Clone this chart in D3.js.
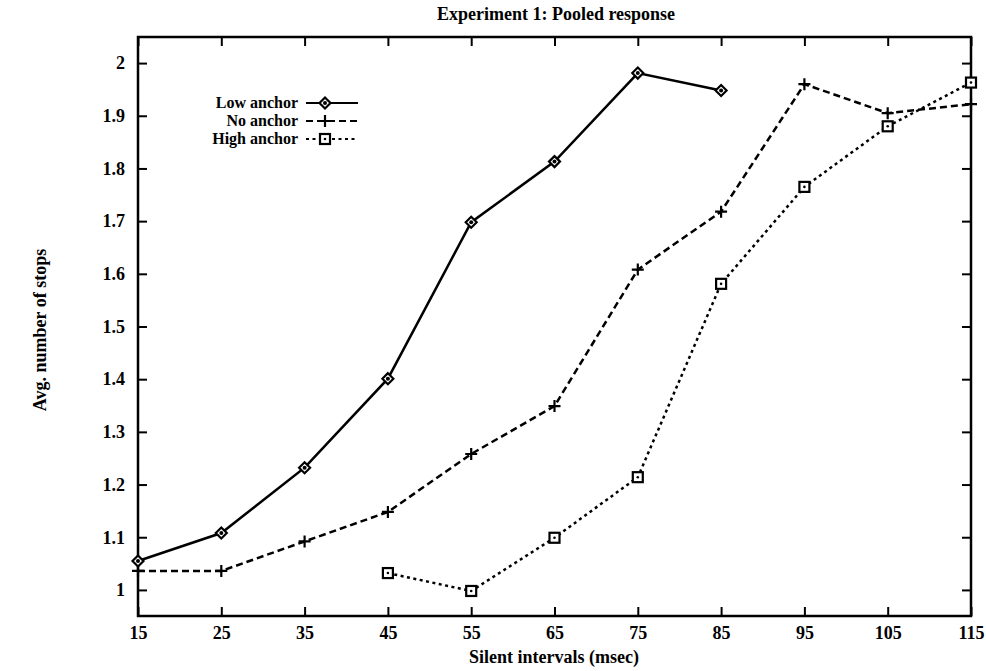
<!doctype html>
<html lang="en">
<head>
<meta charset="UTF-8">
<title>Experiment 1: Pooled response</title>
<style>
  body { margin: 0; background: #fff; }
  text { font-family: "Liberation Serif", "DejaVu Serif", serif; font-weight: bold; fill: #000; }
</style>
</head>
<body>
<div id="chart"></div>
<script src="https://d3js.org/d3.v7.min.js"></script>
<script>
// data
const intervals = [15, 25, 35, 45, 55, 65, 75, 85, 95, 105, 115]
const lowAnchor = [1.055, 1.108, 1.232, 1.401, 1.698, 1.813, 1.981, 1.948, null, null, null]
const noAnchor = [1.036, 1.036, 1.092, 1.148, 1.258, 1.349, 1.608, 1.718, 1.960, 1.905, 1.922]
const highAnchor = [null, null, null, 1.032, 0.998, 1.099, 1.214, 1.581, 1.765, 1.880, 1.963]
const xTicks = [15, 25, 35, 45, 55, 65, 75, 85, 95, 105, 115]
const yTicks = [1, 1.1, 1.2, 1.3, 1.4, 1.5, 1.6, 1.7, 1.8, 1.9, 2]

const series = [
  { name: 'Low anchor', values: lowAnchor, dash: null, marker: 'diamond' },
  { name: 'No anchor', values: noAnchor, dash: '7,4', marker: 'plus' },
  { name: 'High anchor', values: highAnchor, dash: '3,3.5', marker: 'square' }
]

const W = 986, H = 671
const margin = { top: 37, right: 15, bottom: 55, left: 138 }
const width = W - margin.left - margin.right
const height = H - margin.top - margin.bottom

const svg = d3.select('#chart').append('svg')
  .attr('width', W).attr('height', H)

const g = svg.append('g')
  .attr('transform', 'translate(' + margin.left + ',' + margin.top + ')')

const x = d3.scaleLinear().domain([15, 115]).range([0, width])
const y = d3.scaleLinear().domain([0.9505, 2.0495]).range([height, 0])

// axes: ticks pointing into the frame on all four sides
const tickLen = 9
g.append('g').attr('transform', 'translate(0,' + height + ')')
  .call(d3.axisBottom(x).tickValues(xTicks).tickSize(-tickLen).tickPadding(10))
g.append('g')
  .call(d3.axisTop(x).tickValues(xTicks).tickSize(-tickLen).tickFormat(''))
g.append('g')
  .call(d3.axisLeft(y).tickValues(yTicks).tickSize(-tickLen).tickPadding(13).tickFormat(d3.format('~g')))
g.append('g').attr('transform', 'translate(' + width + ',0)')
  .call(d3.axisRight(y).tickValues(yTicks).tickSize(-tickLen).tickFormat(''))

g.selectAll('.domain').remove()
g.selectAll('.tick line').attr('stroke', '#000').attr('stroke-width', 2)
g.selectAll('.tick text').style('font-size', '18px')

g.append('rect')
  .attr('width', width).attr('height', height)
  .attr('fill', 'none').attr('stroke', '#000').attr('stroke-width', 2.5)

// titles
svg.append('text')
  .attr('x', 556).attr('y', 20)
  .attr('text-anchor', 'middle').style('font-size', '18px')
  .text('Experiment 1: Pooled response')
svg.append('text')
  .attr('x', 554).attr('y', 663)
  .attr('text-anchor', 'middle').style('font-size', '18px')
  .text('Silent intervals (msec)')
svg.append('text')
  .attr('transform', 'translate(46,330) rotate(-90)')
  .attr('text-anchor', 'middle').style('font-size', '18px')
  .text('Avg. number of stops')

function drawMarker(sel, type) {
  if (type === 'diamond') {
    sel.append('path').attr('d', 'M0,-5.5L5.5,0L0,5.5L-5.5,0Z')
      .attr('fill', '#fff').attr('stroke', '#000').attr('stroke-width', 2.2)
    sel.append('circle').attr('r', 2).attr('fill', '#000')
  } else if (type === 'plus') {
    sel.append('path').attr('d', 'M-6,0H6M0,-6V6')
      .attr('stroke', '#000').attr('stroke-width', 2.2)
  } else {
    sel.append('rect').attr('x', -5).attr('y', -5).attr('width', 10).attr('height', 10)
      .attr('fill', '#fff').attr('stroke', '#000').attr('stroke-width', 2.2)
    sel.append('circle').attr('r', 1.3).attr('fill', '#000')
  }
}

const line = d3.line()
  .defined(d => d.v != null)
  .x(d => x(d.x))
  .y(d => y(d.v))

series.forEach(s => {
  const pts = intervals.map((xv, i) => ({ x: xv, v: s.values[i] }))
  g.append('path')
    .datum(pts)
    .attr('d', line)
    .attr('fill', 'none')
    .attr('stroke', '#000')
    .attr('stroke-width', 2.5)
    .attr('stroke-dasharray', s.dash)
  pts.filter(d => d.v != null).forEach(d => {
    const m = g.append('g').attr('transform', 'translate(' + x(d.x) + ',' + y(d.v) + ')')
    drawMarker(m, s.marker)
  })
})

// legend
const legend = svg.append('g').attr('transform', 'translate(298,103)')
series.forEach((s, i) => {
  const row = legend.append('g').attr('transform', 'translate(0,' + i * 18 + ')')
  row.append('text').attr('x', 0).attr('y', 5)
    .attr('text-anchor', 'end').style('font-size', '16px')
    .text(s.name)
  row.append('line').attr('x1', 8).attr('x2', 60)
    .attr('stroke', '#000').attr('stroke-width', 2.2)
    .attr('stroke-dasharray', s.dash)
  const m = row.append('g').attr('transform', 'translate(27,0)')
  drawMarker(m, s.marker)
})
</script>
</body>
</html>
